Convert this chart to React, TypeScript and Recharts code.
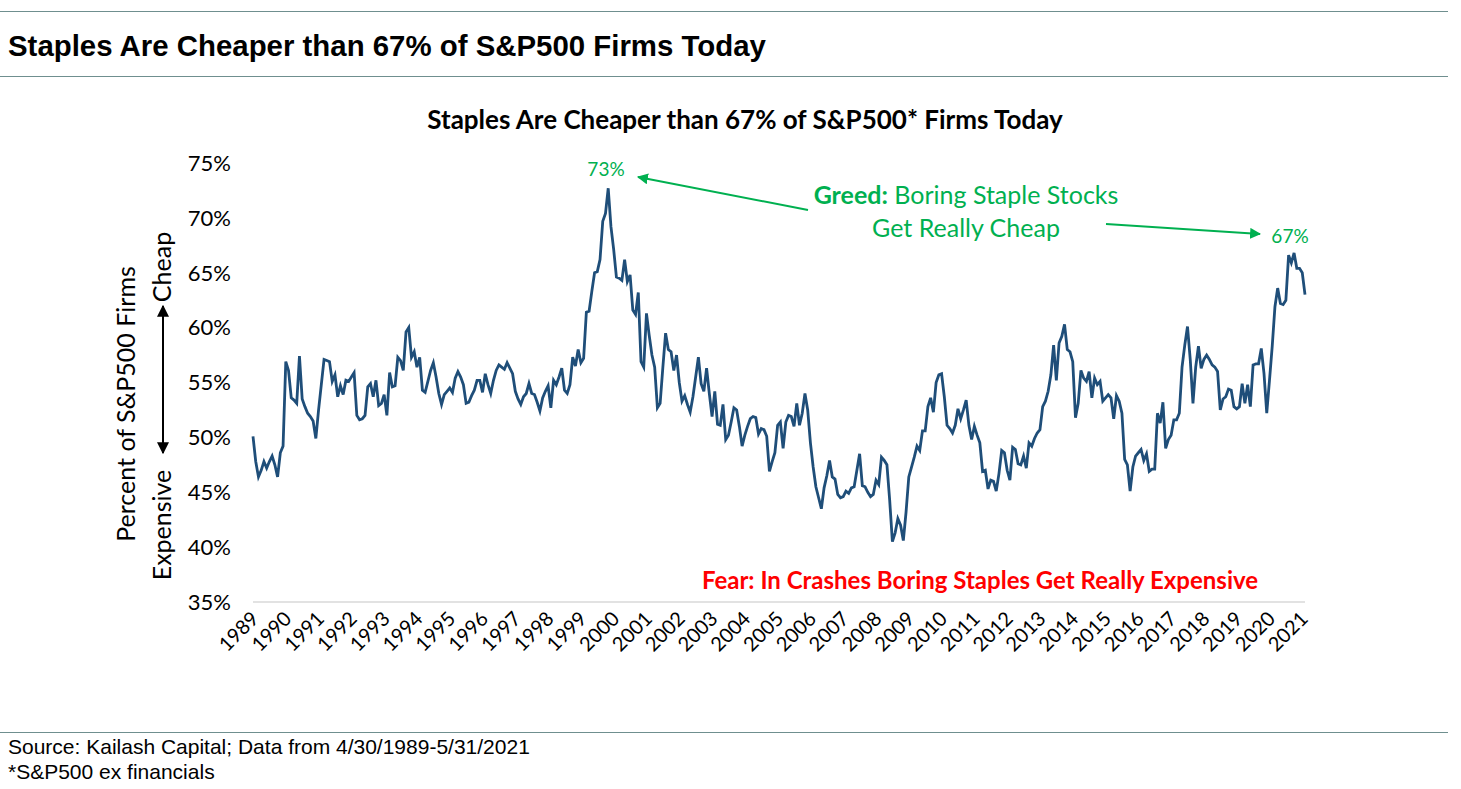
import React from 'react';
import { LineChart, Line, XAxis, YAxis } from 'recharts';

// monthly readings, first value is April 1989, last is May 2021
const startYear = 1989;
const startMonth = 4;

const yearLabels = [
  '1989', '1990', '1991', '1992', '1993', '1994', '1995', '1996', '1997', '1998', '1999',
  '2000', '2001', '2002', '2003', '2004', '2005', '2006', '2007', '2008', '2009', '2010',
  '2011', '2012', '2013', '2014', '2015', '2016', '2017', '2018', '2019', '2020', '2021',
];

const yTicks = [35, 40, 45, 50, 55, 60, 65, 70, 75];

// percent of S&P500 firms that are more expensive than staples
const staplesPct = [
  50.1, 47.8, 46.4, 47.0, 47.8, 47.2, 47.8, 48.3, 47.5, 46.4, 48.6, 49.2,
  56.9, 56.1, 53.6, 53.4, 53.1, 57.4, 53.5, 52.8, 52.2, 51.9, 51.5, 49.9,
  52.5, 54.8, 57.1, 57.0, 56.9, 55.1, 55.7, 53.7, 54.7, 53.9, 55.2, 55.1,
  55.5, 55.9, 52.0, 51.6, 51.7, 52.0, 54.6, 54.9, 53.7, 55.2, 52.9, 53.1,
  53.9, 52.0, 55.9, 54.6, 54.7, 57.3, 57.0, 56.1, 59.6, 60.0, 57.3, 57.8,
  56.4, 57.3, 54.3, 54.1, 55.1, 56.1, 56.8, 55.5, 54.0, 53.0, 53.9, 54.2,
  54.5, 54.1, 55.4, 56.0, 55.5, 54.8, 53.1, 53.2, 53.8, 54.3, 55.2, 55.2,
  54.1, 55.8, 54.8, 54.0, 55.2, 56.1, 56.6, 56.4, 56.2, 56.8, 56.3, 55.8,
  54.2, 53.5, 53.0, 53.7, 54.0, 54.9, 54.0, 53.9, 53.2, 52.4, 53.6, 54.2,
  54.7, 52.7, 55.2, 54.8, 55.5, 56.3, 54.3, 54.0, 54.8, 57.3, 56.5, 58.0,
  56.8, 57.2, 61.4, 61.5, 63.3, 65.0, 65.1, 66.2, 69.7, 70.4, 72.7, 69.2,
  67.1, 64.6, 64.5, 64.3, 66.2, 64.2, 64.8, 61.6, 61.2, 63.2, 56.9, 56.4,
  61.3, 59.3, 57.5, 56.4, 52.7, 53.1, 56.4, 59.5, 58.0, 57.8, 56.1, 57.5,
  55.0, 53.3, 53.8, 53.0, 52.3, 53.7, 55.5, 57.3, 54.9, 54.2, 56.3, 54.0,
  51.9, 54.2, 51.2, 51.1, 53.0, 49.8, 50.2, 51.4, 52.7, 52.5, 51.0, 49.2,
  50.2, 51.0, 51.7, 51.9, 51.8, 50.3, 50.8, 50.7, 50.1, 46.9, 47.8, 48.6,
  51.1, 51.4, 49.0, 51.4, 52.0, 51.9, 51.0, 53.1, 51.1, 52.2, 54.0, 52.5,
  49.5, 47.3, 45.5, 44.5, 43.5, 45.4, 46.5, 47.9, 46.4, 46.2, 44.8, 44.5,
  44.6, 45.1, 44.9, 45.4, 45.5, 47.0, 48.5, 45.6, 45.5, 45.0, 44.6, 44.8,
  46.1, 45.7, 48.2, 47.9, 47.5, 44.3, 40.5, 41.3, 42.6, 42.0, 40.6, 43.2,
  46.4, 47.3, 48.2, 49.2, 48.8, 50.6, 50.6, 52.8, 53.6, 52.3, 55.0, 55.7,
  55.8, 53.7, 51.1, 50.8, 50.4, 51.1, 52.6, 51.7, 52.5, 53.4, 51.1, 49.8,
  51.0, 50.2, 49.5, 46.9, 47.0, 45.3, 46.1, 46.0, 45.1, 46.7, 48.8, 48.6,
  47.0, 46.1, 49.1, 48.9, 47.6, 47.5, 48.3, 47.2, 49.5, 49.2, 49.9, 50.4,
  50.7, 52.8, 53.3, 54.2, 55.7, 58.4, 55.2, 58.6, 59.2, 60.3, 58.0, 57.8,
  56.9, 51.8, 53.1, 56.1, 55.4, 55.1, 56.0, 53.6, 55.4, 54.8, 55.1, 53.3,
  53.6, 53.9, 53.6, 51.7, 53.8, 53.3, 52.2, 48.0, 47.5, 45.1, 47.3, 48.3,
  48.6, 48.9, 47.9, 48.5, 46.9, 47.1, 47.1, 52.2, 51.3, 53.2, 49.0, 49.8,
  50.2, 51.6, 51.6, 52.2, 56.4, 58.4, 60.1, 57.1, 53.1, 56.4, 58.3, 56.3,
  57.1, 57.5, 57.1, 56.6, 56.4, 56.0, 52.5, 53.5, 53.7, 54.4, 54.3, 52.8,
  52.6, 52.8, 54.9, 53.1, 54.8, 52.8, 56.6, 56.7, 56.7, 58.1, 55.8, 52.2,
  55.2, 58.3, 61.9, 63.6, 62.2, 62.1, 62.5, 66.6, 65.9, 66.8, 65.4, 65.4,
  65.0, 63.0,
];

const chartData = staplesPct.map((v, i) => {
  const m = startMonth - 1 + i;
  return {
    i,
    date: `${startYear + Math.floor(m / 12)}-${String((m % 12) + 1).padStart(2, '0')}`,
    pct: v,
  };
});

// one label every 12 months, starting at the first point
const xTicks = yearLabels.map((_, k) => k * 12);

const GREEN = '#00b050';
const RULE = '#6f8f8f';

const YearTick = (props: any) => {
  const { x, y, payload } = props;
  const label = yearLabels[Math.round(payload.value / 12)];
  return (
    <g transform={`translate(${x + 2},${y + 5})`}>
      <text transform="rotate(-45)" textAnchor="end" dy="0.35em" fontSize={20} fill="#000" fontFamily="Lato">
        {label}
      </text>
    </g>
  );
};

export default function App() {
  return (
    <div style={{ position: 'absolute', left: 0, top: 0, width: 1461, height: 789, background: '#fff', fontFamily: 'Liberation Sans, Arial, sans-serif' }}>
      <div style={{ position: 'absolute', left: 0, top: 11, width: 1448, borderTop: `1px solid ${RULE}` }} />
      <div style={{ position: 'absolute', left: 8, top: 29, fontSize: 29.4, fontWeight: 'bold', color: '#000', whiteSpace: 'nowrap' }}>
        Staples Are Cheaper than 67% of S&amp;P500 Firms Today
      </div>
      <div style={{ position: 'absolute', left: 0, top: 76, width: 1448, borderTop: `1px solid ${RULE}` }} />

      <div style={{ position: 'absolute', left: 0, top: 0 }}>
        <LineChart width={1461} height={789} data={chartData} margin={{ top: 163, right: 156, bottom: 127, left: 193 }}>
          <XAxis
            dataKey="i"
            type="number"
            domain={[0, staplesPct.length - 1]}
            ticks={xTicks}
            interval={0}
            tick={<YearTick />}
            tickLine={false}
            axisLine={{ stroke: '#d9d9d9', strokeWidth: 1.5 }}
            height={60}
          />
          <YAxis
            type="number"
            domain={[35, 75]}
            ticks={yTicks}
            interval={0}
            tickFormatter={(v: number) => `${v}%`}
            tick={{ fontSize: 22, fill: '#000', fontFamily: 'Lato' }}
            tickLine={false}
            axisLine={false}
            tickMargin={16}
            width={60}
          />
          <Line
            dataKey="pct"
            type="linear"
            stroke="#1f4e79"
            strokeWidth={2.8}
            dot={false}
            isAnimationActive={false}
          />
        </LineChart>
      </div>

      <svg width={1461} height={789} style={{ position: 'absolute', left: 0, top: 0, pointerEvents: 'none' }}>
        <defs>
          <marker id="gArrow" viewBox="0 0 10 10" refX="9" refY="5" markerWidth="5.5" markerHeight="5.5" orient="auto-start-reverse">
            <path d="M0,0 L10,5 L0,10 z" fill={GREEN} />
          </marker>
          <marker id="kArrow" viewBox="0 0 10 10" refX="9" refY="5" markerWidth="6" markerHeight="6" orient="auto-start-reverse">
            <path d="M0,0 L10,5 L0,10 z" fill="#000" />
          </marker>
        </defs>

        <text x={745} y={129} textAnchor="middle" fontFamily="Lato" fontWeight="bold" fontSize={26} fill="#000">
          Staples Are Cheaper than 67% of S&amp;P500* Firms Today
        </text>

        <text transform="translate(135,404) rotate(-90)" textAnchor="middle" fontFamily="Lato" fontSize={25} fill="#000">
          Percent of S&amp;P500 Firms
        </text>
        <text transform="translate(171,267) rotate(-90)" textAnchor="middle" fontFamily="Lato" fontSize={25} fill="#000">
          Cheap
        </text>
        <text transform="translate(171,525) rotate(-90)" textAnchor="middle" fontFamily="Lato" fontSize={25} fill="#000">
          Expensive
        </text>
        <line x1={163} y1={306} x2={163} y2={453} stroke="#000" strokeWidth={2} markerStart="url(#kArrow)" markerEnd="url(#kArrow)" />

        <text x={606} y={176} textAnchor="middle" fontFamily="Lato" fontSize={19} fill={GREEN}>73%</text>
        <text x={1290} y={243} textAnchor="middle" fontFamily="Lato" fontSize={19} fill={GREEN}>67%</text>

        <text x={966} y={204} textAnchor="middle" fontFamily="Lato" fontSize={25} fill={GREEN}>
          <tspan fontWeight="bold">Greed:</tspan> Boring Staple Stocks
        </text>
        <text x={966} y={237} textAnchor="middle" fontFamily="Lato" fontSize={25} fill={GREEN}>
          Get Really Cheap
        </text>
        <line x1={808} y1={210} x2={638} y2={177} stroke={GREEN} strokeWidth={2} markerEnd="url(#gArrow)" />
        <line x1={1106} y1={224} x2={1260} y2={234} stroke={GREEN} strokeWidth={2} markerEnd="url(#gArrow)" />

        <text x={980} y={589} textAnchor="middle" fontFamily="Lato" fontWeight="bold" fontSize={24} fill="#ff0000">
          Fear: In Crashes Boring Staples Get Really Expensive
        </text>
      </svg>

      <div style={{ position: 'absolute', left: 0, top: 732, width: 1448, borderTop: `1px solid ${RULE}` }} />
      <div style={{ position: 'absolute', left: 8, top: 734, fontSize: 21, color: '#000', lineHeight: '25px', whiteSpace: 'nowrap' }}>
        <div>Source: Kailash Capital; Data from 4/30/1989-5/31/2021</div>
        <div>*S&amp;P500 ex financials</div>
      </div>
    </div>
  );
}
